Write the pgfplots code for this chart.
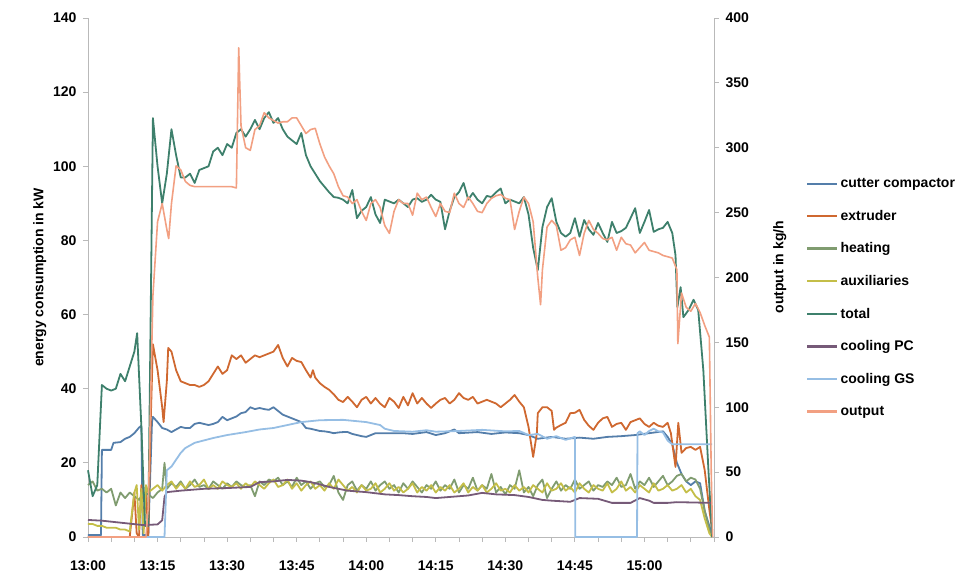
\documentclass[border=0pt]{standalone}
\usepackage{fontspec}
\setmainfont{Liberation Sans}
\usepackage{pgfplots}
\pgfplotsset{compat=1.18}
\definecolor{cCut}{RGB}{84,126,170}
\definecolor{cExt}{RGB}{207,104,48}
\definecolor{cHeat}{RGB}{128,156,112}
\definecolor{cAux}{RGB}{196,190,72}
\definecolor{cTot}{RGB}{62,128,108}
\definecolor{cPC}{RGB}{118,90,120}
\definecolor{cGS}{RGB}{150,190,228}
\definecolor{cOut}{RGB}{242,160,130}
\newcommand{\lblfont}{\fontsize{14}{16}\selectfont\bfseries}
\begin{document}
\begin{tikzpicture}
\useasboundingbox (-88pt,-43pt) rectangle (887pt,537pt);
\begin{axis}[
  scale only axis, width=626pt, height=519pt,
  xmin=0, xmax=135, ymin=0, ymax=140,
  axis x line*=bottom, axis y line*=left,
  axis line style={draw=gray!55, line width=0.8pt},
  xtick={0,15,...,120},
  xticklabels={13:00,13:15,13:30,13:45,14:00,14:15,14:30,14:45,15:00},
  minor xtick={5,10,...,135},
  ytick={0,20,...,140},
  /pgf/number format/assume math mode=true,
  tick style={draw=gray!55, line width=0.8pt},
  tick align=outside, major tick length=5pt, minor tick length=5pt,
  ticklabel style={font=\lblfont},
  xticklabel style={yshift=-15pt},
  yticklabel style={xshift=-3pt},
  ylabel={energy consumption in kW},
  ylabel style={font=\lblfont, at={(axis description cs:-0.077,0.5)}, anchor=center},
  no markers, every axis plot/.append style={line width=1.8pt, line join=round},
  clip=false,
]
% cutter compactor
\addplot[cCut] coordinates {(0,0.5) (2.8,0.5) (3,23.5) (5,23.5) (5.5,25.4) (7,25.6) (8,26.5) (9,27) (10,28) (10.6,28.9) (11,29.5) (11.5,30) (11.8,0.5) (13,0.5) (13.8,31) (14,32.4) (15,31) (16,29.4) (17,29) (18,28.3) (19,29) (20,29.7) (21,29.4) (22,29.4) (23,30.5) (24,30.8) (25,30.5) (26,30.2) (27,30.5) (28,31) (29,32.4) (30,31.5) (31,32) (32,32.5) (33,33.4) (34,33.7) (35,35) (36,34.5) (37,34.8) (38,34.5) (39,34.3) (40,35) (41,34) (42,33) (43,32.5) (44,32) (45,31.5) (46,31) (47,29.4) (48,29.2) (49,28.9) (50,28.6) (51,28.5) (52,28.3) (53,28) (54,28.2) (55,28.3) (56,28.3) (57,27.8) (58,27.5) (59,27.2) (60,27) (61,27.5) (62,28) (65,28) (68,28) (70,27.8) (73,28.3) (75,27.5) (77,28) (79,29) (80,28) (84,28.3) (87,27.8) (90,28.2) (93,28) (95,27.5) (97,26.5) (100,27) (103,26.5) (106,26.8) (109,26.5) (112,27) (115,27.2) (118,27.5) (121,28) (124,28.5) (125,27) (126,25) (127,20) (128,17) (129,15) (130,14) (131,15) (132,14.5) (133,7) (134.6,0.5)};
% extruder
\addplot[cExt] coordinates {(0,0) (9,0) (10,12) (10.5,1) (11,0) (11.5,14) (12,3) (12.5,13) (13,0) (13.5,30) (14,52) (15,45) (16,35) (16.3,31) (17,42) (17.3,51) (18,50) (19,45) (20,42) (21,41.5) (22,41) (23,41) (24,40.5) (25,41) (26,42) (27,44) (28,46) (29,44) (30,45) (31,49) (32,48) (33,49) (34,47) (35,48) (36,49) (37,48.5) (38,49) (39,49.5) (40,50) (41,51.8) (42,48.3) (43,46) (44,48.3) (45,47.5) (46,47.2) (47,45) (48,43) (48.5,45) (49,43) (50,41.5) (51,40.5) (52,39.7) (53,38.5) (54,37) (55,36.4) (56,37.8) (57,36.5) (58,35) (59,37) (60,37.8) (61,36) (62,37.5) (63,36) (64,35) (65,37.5) (66,36.5) (67,34.8) (68,37.8) (69,35.5) (70,38.8) (71,36) (72,37.5) (73,36) (74,34.8) (75,36) (76,37) (77,37.5) (78,36) (79,37) (80,38.8) (81,37.5) (82,37) (83,37.8) (84,36) (85,36.5) (86,37) (87,36.5) (88,36) (89,35) (90,36) (91,37) (92,38.3) (93,36.5) (94,35) (95,29.7) (96,21.6) (96.8,28) (97,33.4) (98,35) (99,35) (100,34) (100.5,28.9) (101,29.5) (102,30.2) (103,30.8) (104,33.4) (105,33.5) (106,34.3) (107,31.6) (108,30) (109,28.9) (110,30.8) (111,32) (112,32.4) (113,29.7) (114,30.5) (115,30.8) (116,28.9) (117,31) (118,31.5) (119,32) (120,30.5) (121,29.7) (122,30.8) (123,30) (124,29.7) (125,30.8) (125.7,28) (126.7,18.9) (127.3,30.8) (128,22.7) (129,24) (130,24.3) (131,23.5) (132,24.3) (133,18) (134,7.3) (134.6,2)};
% heating
\addplot[cHeat] coordinates {(0,14) (1,15) (2,12.5) (3,13) (4,12) (5,13) (6,8.5) (7,12) (8,10.5) (9,12) (10,11) (11,10) (12,12) (13,11.5) (14,10.5) (15,12) (16,13) (16.5,20) (17,13) (18,14.5) (19,13.5) (20,15) (21,13) (22,14) (23,15.5) (24,13.5) (25,14) (26,13) (27,15) (28,14) (29,13) (30,14.5) (31,13.5) (32,15) (33,14) (34,13.5) (35,14) (36,11) (37,15) (38,14) (39,15.5) (40,15) (41,16) (42,14) (43,15) (44,13.5) (45,16) (46,14) (47,15) (48,13) (49,14.5) (50,15) (51,13.5) (52,14) (53,16.5) (54,12) (55,10) (56,14) (57,15) (58,12.5) (59,14) (60,13) (61,15) (62,12.5) (63,14) (64,15) (65,13) (66,14) (67,12) (68,14.5) (69,13) (70,15) (71,13.5) (72,12) (73,14) (74,13) (75,15) (76,12.5) (77,14) (78,13) (79,15.5) (80,12) (81,14) (82,13) (83,16) (84,12.5) (85,14) (86,13) (87,17) (88,12) (89,13.5) (90,11.5) (91,14) (92,13) (93,18) (94,12) (95,13.5) (96,11) (97,14) (98,15.5) (99,10.5) (100,13) (101,15) (102,12.5) (103,14) (104,13) (105,15.5) (106,13) (107,14) (108,15) (109,12.5) (110,14) (111,13.5) (112,15) (113,14) (114,16) (115,13.5) (116,14) (117,17) (118,13) (119,15) (120,14) (121,16) (122,13.5) (123,15) (124,16.5) (125,14) (126,15) (127,16.5) (128,17) (129,15) (130,16) (131,15.5) (132,13) (133,7) (134,2) (134.6,0)};
% auxiliaries
\addplot[cAux] coordinates {(0,3.5) (1,3.5) (2,3) (3,3) (4,2.5) (5,2.5) (6,2.5) (7,2) (8,2) (9,1.5) (10,12) (10.5,14) (11,2) (11.5,13) (12,1) (12.5,14) (13,12) (14,13) (15,14) (16,12.5) (17,14) (18,15) (19,13) (20,14.5) (21,13) (22,15) (23,13.5) (24,14) (25,15.5) (26,13) (27,14) (28,13) (29,15) (30,14) (31,13.5) (32,14.5) (33,13) (34,14.5) (35,13.5) (36,15) (37,14) (38,13) (39,14.5) (40,15.5) (41,13.5) (42,14) (43,15.5) (44,13) (45,14.5) (46,12.5) (47,14) (48,15) (49,13) (50,14) (51,12.5) (52,14.5) (53,13) (54,15.5) (55,14) (56,12.5) (57,13.5) (58,12) (59,14) (60,12.5) (61,13) (62,14.5) (63,12) (64,13) (65,14.5) (66,12.5) (67,13.5) (68,12) (69,13) (70,14.5) (71,12) (72,13.5) (73,12.5) (74,14) (75,12) (76,13.5) (77,12.5) (78,14) (79,12) (80,13) (81,14.5) (82,12) (83,13.5) (84,12.5) (85,14) (86,12) (87,13) (88,14.5) (89,12.5) (90,13) (91,12) (92,14) (93,12.5) (94,13.5) (95,12) (96,14) (97,13) (98,12) (99,14.5) (100,12.5) (101,13) (102,14.5) (103,12.5) (104,13.5) (105,12) (106,14.5) (107,13) (108,12) (109,14) (110,13) (111,12.5) (112,14.5) (113,12) (114,13) (115,15) (116,12.5) (117,13.5) (118,12) (119,14) (120,13) (121,12) (122,14.5) (123,12.5) (124,13) (125,14) (126,12.5) (127,13) (128,14) (129,12) (130,13) (131,11) (132,10) (133,5) (134,1) (134.6,0)};
% total
\addplot[cTot] coordinates {(0,18) (1,11) (2,14) (3,41) (4,40) (5,39.5) (6,40) (7,44) (8,42) (9,46) (10,50) (10.6,55) (11.5,30) (12.3,3) (13,3) (14,113) (15,100) (16,90) (17,98) (18,110) (19,103) (20,97) (21,97) (22,98) (23,95.5) (24,99) (25,99.5) (26,100) (27,104) (28,105) (29,103) (30,106) (31,105) (32,109) (33,110) (34,108) (35,110) (36,112.5) (37,110) (38,113) (39,114.6) (40,111.7) (41,113) (42,110) (43,108) (44,107) (45,106) (46,109) (47,103) (48,100) (49,98) (50,96) (51,94.5) (52,93) (53,91.7) (54,91.5) (55,91) (56,90) (57,93.6) (58,86) (59,88) (60,89) (61,91.7) (62,87) (63,84.7) (64,91) (65,90.5) (66,90) (67,91) (68,90) (69,89) (70,91) (71,91.4) (72,90.4) (73,91) (74,92.3) (75,91) (76,90.4) (77,83) (78,88) (79,91.7) (80,93) (81,95.5) (82,91) (83,92.8) (84,91) (85,90) (86,92) (87,91.7) (88,93) (89,94) (90,90) (91,91) (92,90.5) (93,90) (94,91.7) (95,87) (96,78) (97,72) (98,83.6) (99,89) (100,91.4) (101,85) (102,82) (103,81) (104,82) (105,86) (106,81) (107,85.5) (108,83) (109,81.5) (110,84.7) (111,82) (112,79.6) (113,85) (114,82) (115,82.5) (116,83.4) (117,86) (118,88.7) (119,82) (120,85) (121,88.2) (122,82.3) (123,83) (124,83.4) (125,85) (126,82) (126.7,76) (127.1,62) (127.8,67.4) (128.4,59.3) (129.5,61.2) (130.6,64) (131.6,61.2) (132.7,45) (133.8,18) (134.6,0)};
% cooling PC
\addplot[cPC] coordinates {(0,4.6) (3,4.4) (6,4) (9,3.6) (12,3.2) (15,3.4) (16,4.5) (16.5,10.8) (17,12.1) (20,12.5) (25,13) (30,13.2) (35,13.5) (37,14.8) (40,15) (43,15.4) (46,15.2) (48,14.8) (50,14.2) (52,13.5) (56,12.5) (60,12.1) (64,11.5) (67,11.3) (70,11) (73,10.8) (75,10.5) (78,10.8) (82,11.2) (85,11.9) (88,11.5) (92,11.3) (95,10.8) (98,10) (100,9.8) (104,9.5) (106,10.5) (110,10.3) (113,9.2) (117,9.2) (119,10.5) (121,9.8) (122,9.2) (125,9.2) (127,9.4) (134.6,9.2)};
% cooling GS
\addplot[cGS] coordinates {(0,0) (16.5,0) (17,18) (18,19) (20,22.7) (21,24) (23,25.4) (27,26.7) (30,27.5) (34,28.3) (37,29) (40,29.4) (43,30.2) (46,31) (50,31.5) (55,31.6) (60,31) (63,30.2) (64,29.2) (66,28.6) (70,28.4) (73,28.8) (75,28.4) (80,28.6) (85,28.9) (90,28.5) (93,28.6) (95,27.5) (97,27.8) (99,26.5) (101,27.2) (103,26.2) (105,27) (105.1,0) (118.4,0) (118.5,28) (119,28.5) (120,27.5) (121,28.6) (122,29.2) (123,28.5) (124,28.2) (125,26) (126,25) (134.6,25)};
\end{axis}
\begin{axis}[
  scale only axis, width=626pt, height=519pt,
  xmin=0, xmax=135, ymin=0, ymax=400,
  axis x line=none, axis y line*=right,
  axis line style={draw=gray!55, line width=0.8pt},
  ytick={0,50,...,400},
  /pgf/number format/assume math mode=true,
  tick style={draw=gray!55, line width=0.8pt},
  tick align=outside, major tick length=5pt,
  ticklabel style={font=\lblfont},
  yticklabel style={xshift=3pt},
  ylabel={output in kg/h},
  ylabel style={font=\lblfont, at={(axis description cs:1.105,0.52)}, anchor=center, rotate=0},
  no markers, every axis plot/.append style={line width=1.8pt, line join=round},
  legend style={draw=none, fill=none, font=\lblfont, at={(axis description cs:1.147,0.695)}, anchor=north west, row sep=17pt, inner sep=0pt},
  legend cell align=left,
  legend image code/.code={\draw[#1] (0pt,0pt) -- (30pt,0pt);},
  clip=false,
]
\addlegendimage{color=cCut, line width=2.4pt}\addlegendentry{cutter compactor}
\addlegendimage{color=cExt, line width=2.4pt}\addlegendentry{extruder}
\addlegendimage{color=cHeat, line width=2.4pt}\addlegendentry{heating}
\addlegendimage{color=cAux, line width=2.4pt}\addlegendentry{auxiliaries}
\addlegendimage{color=cTot, line width=2.4pt}\addlegendentry{total}
\addlegendimage{color=cPC, line width=2.4pt}\addlegendentry{cooling PC}
\addlegendimage{color=cGS, line width=2.4pt}\addlegendentry{cooling GS}
\addlegendimage{color=cOut, line width=2.4pt}\addlegendentry{output}
\addplot[cOut, line width=1.6pt, forget plot] coordinates {(0,0) (12.5,0) (13,23) (14,186) (15,243) (16,257) (17,237) (17.4,230) (18,257) (19,286) (20,283) (21,274) (22,271) (23,270) (31,270) (32,269) (32.5,377) (33,317) (34,300) (35,298) (36,314) (37,317) (38,327) (39,323) (40,321) (41,319) (42,320) (43,320) (44,323) (45,323) (46,317) (47,311) (48,314) (49,315) (50,303) (51,293) (52,286) (53,280) (54,270) (55,263) (56,262) (57,257) (58,260) (59,251) (60,244) (61,257) (62,260) (63,254) (64,240) (65,234) (66,251) (67,260) (68,257) (69,257) (70,248) (71,265) (72,260) (73,262) (74,254) (75,247) (76,257) (77,251) (78,250) (79,265) (80,257) (81,254) (82,262) (83,257) (84,251) (85,250) (86,257) (87,261) (88,263) (89,264) (90,261) (91,260) (92,237) (93,251) (94,262) (95,257) (96,243) (97,200) (97.6,179) (98,206) (99,239) (100,244) (101,240) (102,221) (103,223) (104,229) (105,231) (106,217) (107,234) (108,244) (109,237) (110,234) (111,230) (112,229) (113,231) (114,221) (115,231) (116,226) (117,225) (118,219) (119,223) (120,227) (121,221) (122,220) (123,219) (124,217) (125,216) (126,215) (127,206) (127.2,149) (128,188) (129,177) (130,174) (131,180) (132,173) (133,163) (134,154) (134.4,51) (134.7,0)};
\end{axis}
\end{tikzpicture}
\end{document}
